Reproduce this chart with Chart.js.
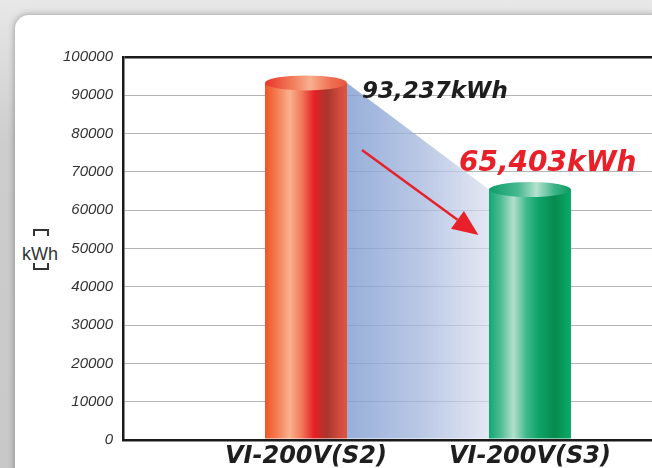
<!DOCTYPE html>
<html>
<head>
<meta charset="utf-8">
<script src="https://cdn.jsdelivr.net/npm/chart.js@4"></script>
<style>
  html, body { margin: 0; padding: 0; }
  body {
    width: 652px; height: 468px; overflow: hidden; position: relative;
    background: linear-gradient(#e8e8e8, #cdcdcd 30%, #c8c8c8);
  }
  #panel {
    position: absolute; left: 15px; top: 15px; width: 800px; height: 600px;
    background: #fff; border-radius: 14px;
    box-shadow: 0 0 7px rgba(0, 0, 0, 0.35);
  }
  .br { position: absolute; left: 33px; width: 12px; height: 5px; border: 2px solid #333; }
  #brTop { top: 229px; border-bottom: none; }
  #brBot { top: 263px; border-top: none; }
  #unitText {
    position: absolute; left: 20px; top: 243px; width: 40px;
    text-align: center; color: #333;
    font: 18px/22px "Liberation Sans", "DejaVu Sans", sans-serif;
  }
  #chart { position: absolute; left: 0; top: 0; }
</style>
</head>
<body>
<div id="panel"></div>
<div class="br" id="brTop"></div>
<div id="unitText">kWh</div>
<div class="br" id="brBot"></div>
<canvas id="chart" width="760" height="468"></canvas>
<script>
// data
const models = ['VI-200V(S2)', 'VI-200V(S3)'];
const energy = [93237, 65403];
const yTicks = [0, 10000, 20000, 30000, 40000, 50000, 60000, 70000, 80000, 90000, 100000];
// arrow from / to, in data units [x, kWh]
const arrowFrom = [0.25, 75700];
const arrowTo = [0.77, 53500];

const ctx = document.getElementById('chart').getContext('2d');

// colour stops for each cylinder
const bodyStops = [
    [[0, '#f0552a'], [0.14, '#f47a50'], [0.3, '#f9b290'], [0.45, '#f07858'], [0.6, '#e71f26'], [0.76, '#a8362d'], [0.9, '#cf4a3c'], [1, '#e0553f']],
    [[0, '#13a674'], [0.14, '#4cbc92'], [0.3, '#b2e0cd'], [0.46, '#3db88a'], [0.6, '#0fa46b'], [0.8, '#078a4e'], [1, '#0aaa68']]
];
const capStops = [
    [[0, '#e8342a'], [0.35, '#f2805e'], [0.55, '#f8b090'], [0.8, '#ef7052'], [1, '#e8563e']],
    [[0, '#0e9c6a'], [0.35, '#45b88e'], [0.58, '#b4e2cf'], [0.8, '#3ab486'], [1, '#0b9a60']]
];
const labelColors = ['#1e1e1e', '#e8202a'];
const labelFonts = ['italic bold 23px "DejaVu Sans"', 'italic bold 28px "DejaVu Sans"'];

function hGradient(c, left, right, stops) {
    const g = c.createLinearGradient(left, 0, right, 0);
    stops.forEach(s => g.addColorStop(s[0], s[1]));
    return g;
}

const cylinderPlugin = {
    id: 'cylinders',
    afterDatasetsDraw(chart) {
        const c = chart.ctx;
        const bars = chart.getDatasetMeta(0).data;
        const xs = chart.scales.x, ys = chart.scales.y;
        const a = bars[0], b = bars[1];
        const ry = 7.5;

        c.save();
        // blue drop shadow between the two bars
        const aRight = a.x + a.width / 2, bLeft = b.x - b.width / 2;
        c.fillStyle = hGradient(c, aRight, bLeft, [[0, 'rgba(128,157,210,0.82)'], [0.5, 'rgba(160,180,220,0.75)'], [1, 'rgba(215,221,237,0.7)']]);
        c.beginPath();
        c.moveTo(aRight, a.y);
        c.lineTo(bLeft, b.y);
        c.lineTo(bLeft, a.base - 1);
        c.lineTo(aRight, a.base - 1);
        c.closePath();
        c.fill();

        // cylinders
        bars.forEach((bar, i) => {
            const left = bar.x - bar.width / 2, right = bar.x + bar.width / 2;
            c.fillStyle = hGradient(c, left, right, bodyStops[i]);
            c.fillRect(left, bar.y, bar.width, bar.base - 1 - bar.y);
            c.fillStyle = hGradient(c, left, right, capStops[i]);
            c.beginPath();
            c.ellipse(bar.x, bar.y, bar.width / 2, ry, 0, 0, Math.PI * 2);
            c.fill();
        });

        // arrow
        const x1 = xs.getPixelForValue(arrowFrom[0]), y1 = ys.getPixelForValue(arrowFrom[1]);
        const x2 = xs.getPixelForValue(arrowTo[0]), y2 = ys.getPixelForValue(arrowTo[1]);
        const ang = Math.atan2(y2 - y1, x2 - x1);
        const headLen = 26, headW = 11;
        const hx = x2 - headLen * Math.cos(ang), hy = y2 - headLen * Math.sin(ang);
        c.strokeStyle = '#e8202a';
        c.fillStyle = '#e8202a';
        c.lineWidth = 2.5;
        c.beginPath();
        c.moveTo(x1, y1);
        c.lineTo(hx, hy);
        c.stroke();
        c.beginPath();
        c.moveTo(x2, y2);
        c.lineTo(hx + headW * Math.sin(ang), hy - headW * Math.cos(ang));
        c.lineTo(hx - headW * Math.sin(ang), hy + headW * Math.cos(ang));
        c.closePath();
        c.fill();

        // value labels
        c.textAlign = 'left';
        c.textBaseline = 'alphabetic';
        c.font = labelFonts[0];
        c.fillStyle = labelColors[0];
        c.fillText(energy[0].toLocaleString('en-US') + 'kWh', a.x + a.width / 2 + 15, a.y + 15);
        c.font = labelFonts[1];
        c.fillStyle = labelColors[1];
        c.fillText(energy[1].toLocaleString('en-US') + 'kWh', b.x - b.width / 2 - 30, b.y - 19);
        c.restore();
    }
};

new Chart(ctx, {
    type: 'bar',
    data: {
        datasets: [{
            data: energy.map((v, i) => ({ x: i, y: v })),
            backgroundColor: 'rgba(0,0,0,0)',
            barThickness: 82
        }]
    },
    options: {
        responsive: false,
        animation: false,
        layout: { padding: { top: 57, left: 0, right: 0, bottom: 0 } },
        plugins: { legend: { display: false }, tooltip: { enabled: false } },
        scales: {
            x: {
                type: 'linear',
                offset: false,
                min: -0.817,
                max: 2.027,
                afterBuildTicks: (scale) => { scale.ticks = models.map((m, i) => ({ value: i })); },
                afterFit: (scale) => { scale.height = 28; },
                ticks: {
                    callback: (v) => models[v],
                    color: '#1e1e1e',
                    font: { family: 'DejaVu Sans', size: 24, weight: 'bold', style: 'italic', lineHeight: 1 },
                    padding: 5,
                    maxRotation: 0,
                    autoSkip: false
                },
                grid: { display: false, drawTicks: false },
                border: { display: true, color: '#1a1a1a', width: 2.5 }
            },
            y: {
                min: 0,
                max: 100000,
                afterBuildTicks: (scale) => { scale.ticks = yTicks.map(v => ({ value: v })); },
                afterFit: (scale) => { scale.width = 123; },
                ticks: {
                    callback: (v) => String(v),
                    color: '#333',
                    font: { family: 'Liberation Sans', size: 15, style: 'italic' },
                    padding: 10
                },
                grid: {
                    drawTicks: false,
                    color: (c) => c.tick && c.tick.value === 100000 ? '#1a1a1a' : '#b4b4b4',
                    lineWidth: (c) => c.tick && c.tick.value === 100000 ? 2.5 : 1
                },
                border: { display: true, color: '#1a1a1a', width: 2.5 }
            }
        }
    },
    plugins: [cylinderPlugin]
});
</script>
</body>
</html>
